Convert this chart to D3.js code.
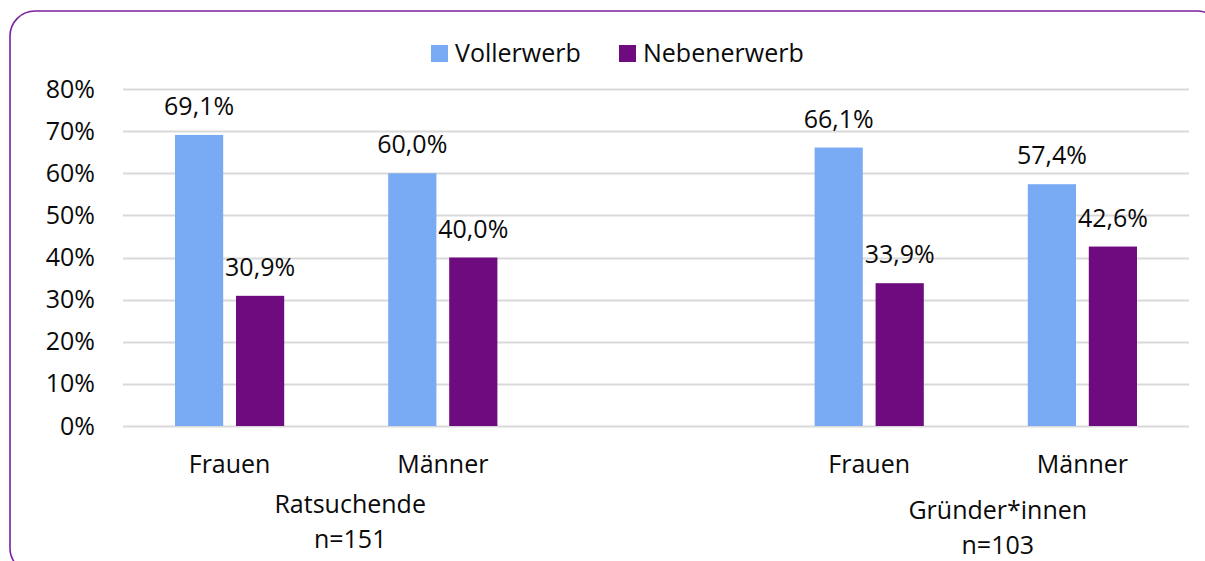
<!DOCTYPE html>
<html>
<head>
<meta charset="utf-8">
<script src="https://cdn.jsdelivr.net/npm/d3@7"></script>
<style>
  body { margin: 0; background: #fff; }
  text { font-family: "Open Sans", "Noto Sans", sans-serif; fill: #0a0a0a; }
</style>
</head>
<body>
<script>
// data
var categories = ["Frauen", "Männer", "", "Frauen ", "Männer "];
var seriesNames = ["Vollerwerb", "Nebenerwerb"];
var vollerwerb = [69.1, 60.0, null, 66.1, 57.4];
var nebenerwerb = [30.9, 40.0, null, 33.9, 42.6];
var yTicks = [0, 10, 20, 30, 40, 50, 60, 70, 80];
var groups = [
  { label: ["Ratsuchende", "n=151"], from: 0, to: 1 },
  { label: ["Gründer*innen", "n=103"], from: 3, to: 4 }
];
var colors = ["#79aaf4", "#6e0b7e"];

chart();

function chart()
{
  var width = 1205, height = 561;
  var fs = 25;
  var svg = d3.select("body").append("svg")
    .attr("width", width)
    .attr("height", height);

  // outer frame
  svg.append("rect")
    .attr("x", 10).attr("y", 11)
    .attr("width", 1212).attr("height", 562)
    .attr("rx", 25).attr("ry", 25)
    .attr("fill", "none")
    .attr("stroke", "#7b1fa2")
    .attr("stroke-width", 1.6);

  var left = 123, right = 1189, top = 89, bottom = 426;

  var x = d3.scaleBand()
    .domain(categories)
    .range([left, right])
    .paddingInner(0).paddingOuter(0);

  var inner = d3.scaleBand()
    .domain(seriesNames)
    .range([52, x.bandwidth() - 52])
    .paddingInner(0.21);

  var y = d3.scaleLinear()
    .domain([0, 80])
    .range([bottom, top]);

  // gridlines
  svg.append("g")
    .selectAll("line")
    .data(yTicks)
    .enter().append("line")
    .attr("x1", left).attr("x2", right)
    .attr("y1", function (d) { return Math.round(y(d)) + 0.5; })
    .attr("y2", function (d) { return Math.round(y(d)) + 0.5; })
    .attr("stroke", "#d9d9d9")
    .attr("stroke-width", 2);

  // y axis labels
  var yAxis = d3.axisLeft(y)
    .tickValues(yTicks)
    .tickSize(0)
    .tickPadding(0)
    .tickFormat(function (d) { return d + "%"; });
  var ya = svg.append("g")
    .attr("transform", "translate(95,0)")
    .call(yAxis);
  ya.select(".domain").remove();
  ya.selectAll("text")
    .attr("font-size", fs)
    .attr("font-family", "Open Sans")
    .style("fill", "#0a0a0a");

  // bars
  var seriesData = [vollerwerb, nebenerwerb];
  seriesData.forEach(function (vals, si) {
    var g = svg.append("g");
    var data = categories.map(function (c, i) { return { c: c, v: vals[i] }; })
      .filter(function (d) { return d.v != null; });
    g.selectAll("rect")
      .data(data)
      .enter().append("rect")
      .attr("x", function (d) { return x(d.c) + inner(seriesNames[si]); })
      .attr("y", function (d) { return y(d.v); })
      .attr("width", inner.bandwidth())
      .attr("height", function (d) { return y(0) - y(d.v); })
      .attr("fill", colors[si]);
    g.selectAll("text")
      .data(data)
      .enter().append("text")
      .attr("x", function (d) { return x(d.c) + inner(seriesNames[si]) + inner.bandwidth() / 2; })
      .attr("y", function (d) { return y(d.v) - 20; })
      .attr("text-anchor", "middle")
      .attr("font-size", fs)
      .text(function (d) { return d.v.toFixed(1).replace(".", ",") + "%"; });
  });

  // category labels
  svg.append("g")
    .selectAll("text")
    .data(categories.filter(function (c) { return c !== ""; }))
    .enter().append("text")
    .attr("x", function (d) { return x(d) + x.bandwidth() / 2; })
    .attr("y", 473)
    .attr("text-anchor", "middle")
    .attr("font-size", fs)
    .text(function (d) { return d.trim(); });

  // group labels
  var offs = [{ dx: 14, y0: 513 }, { dx: 22, y0: 519 }];
  groups.forEach(function (gr, gi) {
    var cx = (x(categories[gr.from]) + x(categories[gr.to]) + x.bandwidth()) / 2 + offs[gi].dx;
    gr.label.forEach(function (t, li) {
      svg.append("text")
        .attr("x", cx)
        .attr("y", offs[gi].y0 + li * 35)
        .attr("text-anchor", "middle")
        .attr("font-size", fs)
        .text(t);
    });
  });

  // legend
  var legX = [431, 619];
  seriesNames.forEach(function (s, i) {
    svg.append("rect")
      .attr("x", legX[i]).attr("y", 45)
      .attr("width", 17).attr("height", 17)
      .attr("fill", colors[i]);
    svg.append("text")
      .attr("x", legX[i] + 24).attr("y", 62)
      .attr("font-size", fs)
      .text(s);
  });
}
</script>
</body>
</html>
